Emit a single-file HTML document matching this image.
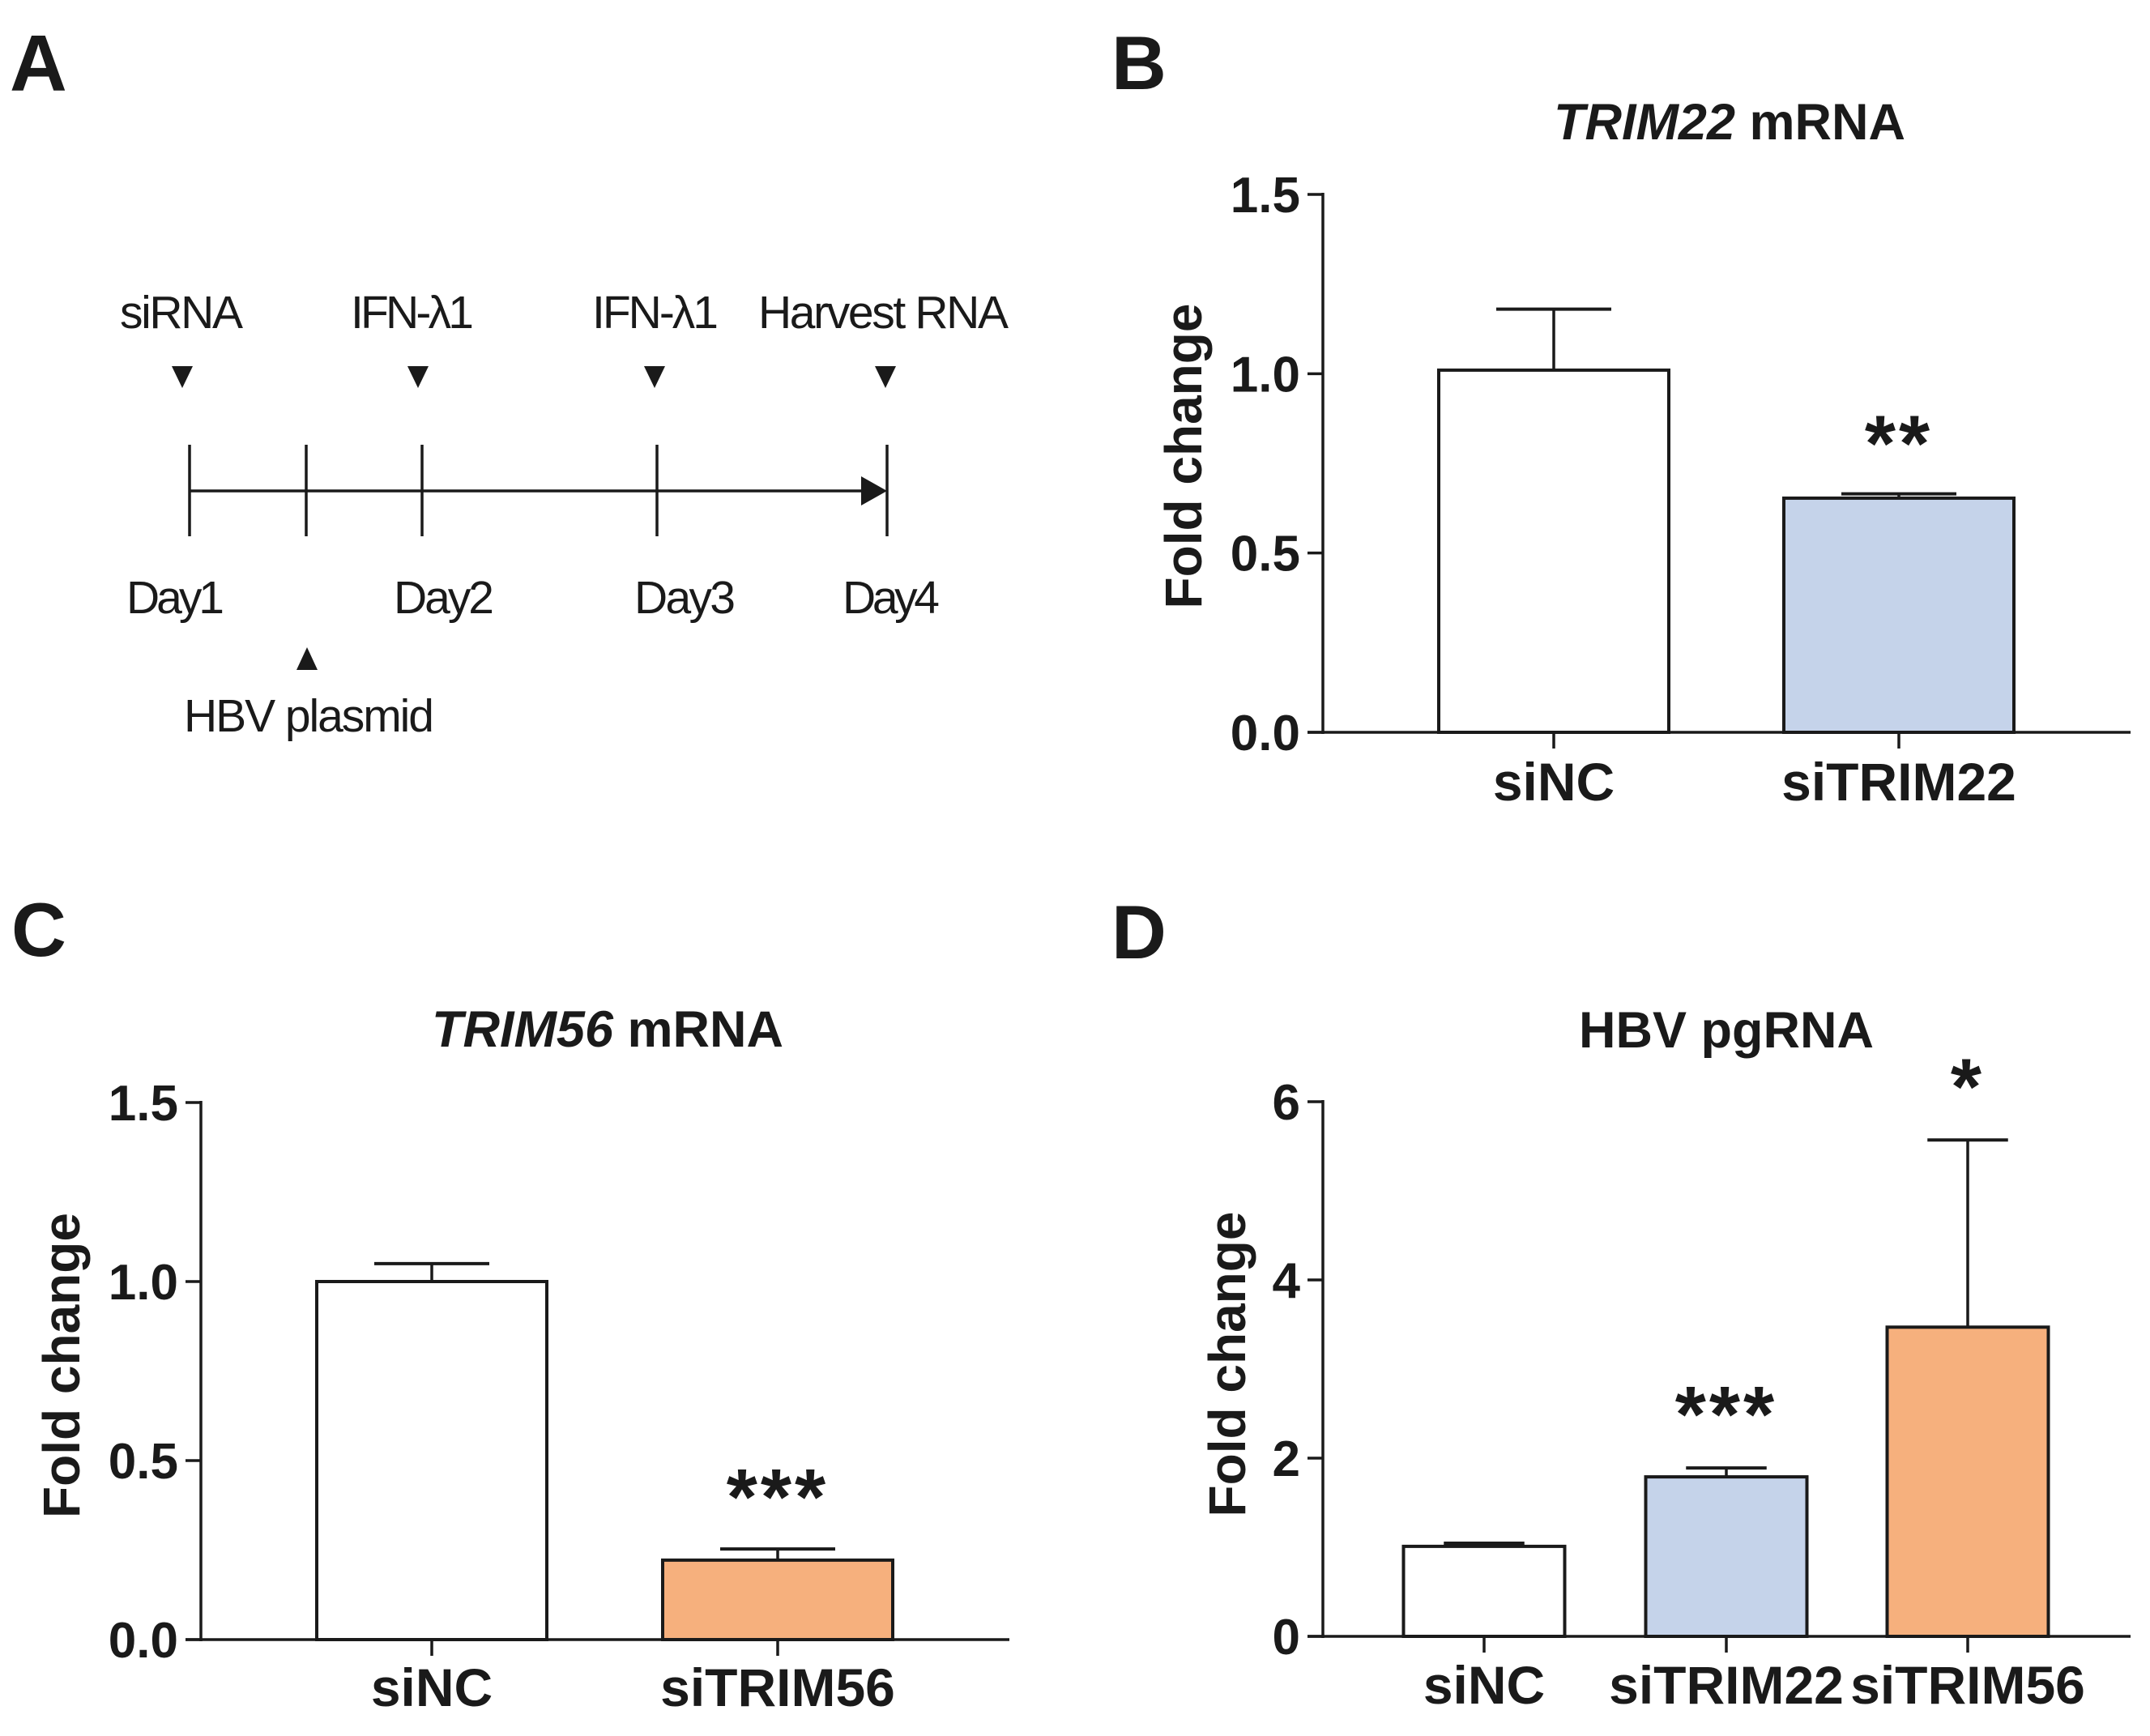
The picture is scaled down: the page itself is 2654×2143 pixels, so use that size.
<!DOCTYPE html>
<html><head><meta charset="utf-8"><style>
html,body{margin:0;padding:0;background:#fff}
svg{display:block}
text{font-family:"Liberation Sans",Arial,sans-serif;fill:#1a1a1a}
.b{font-weight:bold}
</style></head><body>
<svg id="fig" width="2654" height="2143" viewBox="0 0 2654 2143" xmlns="http://www.w3.org/2000/svg">
<rect width="2654" height="2143" fill="#fff"/>
<text class="b" x="12" y="112" font-size="98">A</text>
<text class="b" x="1372" y="110" font-size="94">B</text>
<text class="b" x="14" y="1180" font-size="94">C</text>
<text class="b" x="1372" y="1183" font-size="94">D</text>

<g id="timeline" stroke="#1a1a1a" stroke-width="3.5">
  <line x1="234" y1="606" x2="1070" y2="606"/>
  <polygon points="1063,588 1095,606 1063,624" fill="#1a1a1a" stroke="none"/>
  <line x1="234" y1="549" x2="234" y2="662"/>
  <line x1="378" y1="549" x2="378" y2="662"/>
  <line x1="521" y1="549" x2="521" y2="662"/>
  <line x1="811" y1="549" x2="811" y2="662"/>
  <line x1="1095" y1="549" x2="1095" y2="662"/>
</g>
<g font-size="57">
  <text x="148" y="405" textLength="152">siRNA</text>
  <text x="433" y="405" textLength="152">IFN-λ1</text>
  <text x="731" y="405" textLength="156">IFN-λ1</text>
  <text x="936" y="405" textLength="309">Harvest RNA</text>
  <text x="156" y="757" textLength="121">Day1</text>
  <text x="486" y="757" textLength="124">Day2</text>
  <text x="783" y="757" textLength="125">Day3</text>
  <text x="1040" y="757" textLength="120">Day4</text>
  <text x="227" y="903" textLength="309">HBV plasmid</text>
</g>
<g fill="#1a1a1a">
  <polygon points="212,452 238,452 225,479"/>
  <polygon points="503,452 529,452 516,479"/>
  <polygon points="795,452 821,452 808,479"/>
  <polygon points="1080,452 1106,452 1093,479"/>
  <polygon points="366,827 392,827 379,799"/>
</g>
<g id="charts"></g>
</svg>
<script>
// Panel B data
const bCategories = ["siNC", "siTRIM22"];
const bValues = [1.01, 0.653];
const bErrors = [0.17, 0.012];
const bStars = ["", "**"];
const bTicks = ["0.0", "0.5", "1.0", "1.5"];
const bTickValues = [0, 0.5, 1.0, 1.5];
// Panel C data
const cCategories = ["siNC", "siTRIM56"];
const cValues = [1.0, 0.222];
const cErrors = [0.05, 0.031];
const cStars = ["", "***"];
const cTicks = ["0.0", "0.5", "1.0", "1.5"];
const cTickValues = [0, 0.5, 1.0, 1.5];
// Panel D data
const dCategories = ["siNC", "siTRIM22", "siTRIM56"];
const dValues = [1.01, 1.79, 3.47];
const dErrors = [0.035, 0.1, 2.1];
const dStars = ["", "***", "*"];
const dTicks = ["0", "2", "4", "6"];
const dTickValues = [0, 2, 4, 6];

const NS = "http://www.w3.org/2000/svg";
const root = document.getElementById("charts");
function mk(tag, attrs, parent) {
  const e = document.createElementNS(NS, tag);
  for (const k in attrs) e.setAttribute(k, attrs[k]);
  (parent || root).appendChild(e);
  return e;
}
const fills = {"siNC": "#ffffff", "siTRIM22": "#c5d3ea", "siTRIM56": "#f6b07d"};

function chart(cfg) {
  const g = mk("g", {});
  
  
  const yScale = v => cfg.y0 - (v - 0) / cfg.yMax * (cfg.y0 - cfg.yTop);
  cfg.cats.forEach((c, i) => {
    const cx = cfg.centers[i];
    const top = yScale(cfg.vals[i]);
    const ey = yScale(cfg.vals[i] + cfg.errs[i]);
    const el = mk("line", {x1: cx, y1: top, x2: cx, y2: ey, stroke: "#1a1a1a", "stroke-width": 3.5}, g);
    
    
    const cap = mk("line", {x1: cx - cfg.bw / 4, y1: ey, x2: cx + cfg.bw / 4, y2: ey, stroke: "#1a1a1a", "stroke-width": 4}, g);
    
    
    const r = mk("rect", {x: cx - cfg.bw / 2, y: top, width: cfg.bw, height: cfg.y0 - top, fill: fills[c], stroke: "#1a1a1a", "stroke-width": 4}, g);
    
    
    const t = mk("text", {x: cx, y: cfg.labelY, "text-anchor": "middle", "font-size": 66, "font-weight": "bold"}, g);
    t.textContent = c;
    
    
    const tk = mk("line", {x1: cx, y1: cfg.y0, x2: cx, y2: cfg.y0 + 20, stroke: "#1a1a1a", "stroke-width": 3.5}, g);
    
    
    if (cfg.stars[i]) {
      const s = mk("text", {x: cx, y: ey - cfg.starGap, "text-anchor": "middle", "font-size": 98, "font-weight": "bold", "letter-spacing": 4}, g);
      s.textContent = cfg.stars[i];
      
      
    }
  });
  const ya = mk("line", {x1: cfg.x0, y1: cfg.yTop - 2, x2: cfg.x0, y2: cfg.y0 + 2, stroke: "#1a1a1a", "stroke-width": 3.5}, g);
  
  
  const xa = mk("line", {x1: cfg.x0 - 19, y1: cfg.y0, x2: cfg.x1, y2: cfg.y0, stroke: "#1a1a1a", "stroke-width": 3.5}, g);
  
  
  cfg.tickVals.forEach((v, i) => {
    const y = yScale(v);
    const l = mk("line", {x1: cfg.x0 - 19, y1: y, x2: cfg.x0, y2: y, stroke: "#1a1a1a", "stroke-width": 3.5}, g);
    
    
    const t = mk("text", {x: cfg.x0 - 28, y: y + 22, "text-anchor": "end", "font-size": 62, "font-weight": "bold"}, g);
    t.textContent = cfg.ticks[i];
    
    
  });
  const yl = mk("text", {x: 0, y: 0, "text-anchor": "middle", "font-size": 64, "font-weight": "bold", transform: `translate(${cfg.ylx},${(cfg.yTop + cfg.y0) / 2 + cfg.yloff}) rotate(-90)`}, g);
  yl.textContent = "Fold change";
  
  
  const title = mk("text", {x: cfg.titleX, y: cfg.titleY, "text-anchor": "middle", "font-size": 63, "font-weight": "bold"}, g);
  
  
  if (cfg.italic) {
    const ts = mk("tspan", {"font-style": "italic"}, title);
    ts.textContent = cfg.italic;
    const ts2 = mk("tspan", {}, title);
    ts2.textContent = " " + cfg.title;
  } else title.textContent = cfg.title;
}

chart({name: "chart-trim22-mrna", cats: bCategories, vals: bValues, errs: bErrors, stars: bStars,
  ticks: bTicks, tickVals: bTickValues, yMax: 1.5, x0: 1633, x1: 2630, y0: 904, yTop: 240,
  centers: [1918, 2344], bw: 284, labelY: 988, starGap: 28, ylx: 1483, yloff: -9,
  titleX: 2135, titleY: 172, italic: "TRIM22", title: "mRNA"});
chart({name: "chart-trim56-mrna", cats: cCategories, vals: cValues, errs: cErrors, stars: cStars,
  ticks: cTicks, tickVals: cTickValues, yMax: 1.5, x0: 248, x1: 1246, y0: 2024, yTop: 1361,
  centers: [533, 960], bw: 284, labelY: 2106, starGap: 30, ylx: 98, yloff: -7,
  titleX: 750, titleY: 1292, italic: "TRIM56", title: "mRNA"});
chart({name: "chart-hbv-pgrna", cats: dCategories, vals: dValues, errs: dErrors, stars: dStars,
  ticks: dTicks, tickVals: dTickValues, yMax: 6, x0: 1633, x1: 2630, y0: 2020, yTop: 1360,
  centers: [1832, 2131, 2429], bw: 199, labelY: 2103, starGap: 32, ylx: 1537, yloff: -6,
  titleX: 2131, titleY: 1293, italic: "", title: "HBV pgRNA"});
</script>
</body></html>
